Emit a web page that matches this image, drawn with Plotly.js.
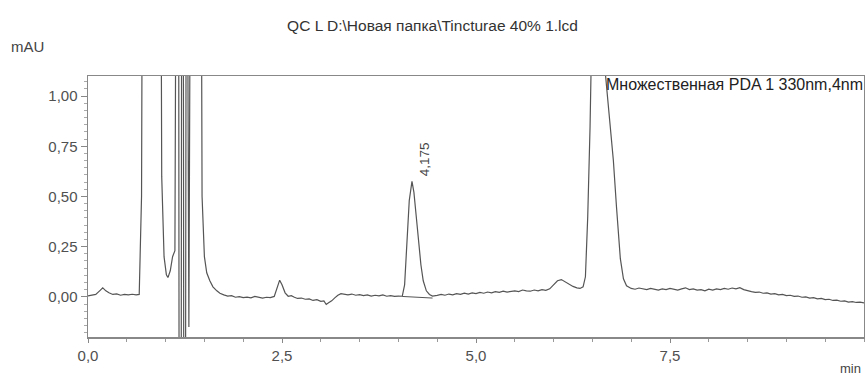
<!DOCTYPE html>
<html>
<head>
<meta charset="utf-8">
<script src="https://cdn.plot.ly/plotly-3.0.1.min.js"></script>
<style>html,body{margin:0;padding:0;background:#fff;}#chart{width:865px;height:376px;}</style>
</head>
<body>
<div id="chart"></div>
<script>
// Retention time (min)
const timeMin = [
  0.00,0.05,0.10,0.15,0.19,0.23,0.27,0.32,0.37,0.42,0.47,0.52,0.57,0.62,0.66,0.69,0.71,
  0.93,0.95,0.98,1.01,1.03,1.06,1.09,1.12,1.145,1.165,1.175,1.20,1.21,1.225,1.235,1.255,1.27,1.30,1.33,
  1.45,1.47,1.50,1.53,1.57,1.61,1.66,1.70,1.75,1.80,1.85,1.90,1.95,2.00,2.05,2.10,2.15,2.20,2.25,2.30,2.35,2.40,
  2.44,2.47,2.50,2.54,2.58,2.62,2.66,2.70,2.75,2.80,2.85,2.90,2.95,3.00,3.04,3.07,3.10,3.14,3.18,3.22,3.26,3.30,
  3.35,3.40,3.45,3.50,3.55,3.60,3.65,3.70,3.75,3.80,3.85,3.90,3.95,4.00,4.05,
  4.08,4.11,4.14,4.175,4.20,4.23,4.26,4.29,4.32,4.36,4.40,4.44,
  4.50,4.55,4.60,4.65,4.70,4.75,4.80,4.85,4.90,4.95,5.00,5.05,5.10,5.15,5.20,5.25,5.30,5.35,5.40,5.45,
  5.50,5.55,5.60,5.65,5.70,5.75,5.80,5.85,5.90,5.95,6.00,6.05,6.10,6.15,6.20,6.25,6.30,6.34,6.38,6.41,
  6.44,6.47,6.50,6.55,6.65,6.67,6.72,6.77,6.81,6.86,6.90,6.94,7.00,
  7.05,7.10,7.15,7.20,7.25,7.30,7.35,7.40,7.45,7.50,7.55,7.60,7.65,7.70,7.75,7.80,7.85,7.90,7.95,
  8.00,8.05,8.10,8.15,8.20,8.25,8.30,8.35,8.40,8.45,8.50,8.55,8.60,8.65,8.70,8.75,8.80,8.85,8.90,8.95,
  9.00,9.05,9.10,9.15,9.20,9.25,9.30,9.35,9.40,9.45,9.50,9.55,9.60,9.65,9.70,9.75,9.80,9.85,9.90,9.95,10.0
];
// Detector signal (mAU)
const signalMAU = [
  0.005,0.010,0.012,0.030,0.045,0.030,0.020,0.012,0.015,0.008,0.012,0.010,0.013,0.010,0.012,0.5,3.0,
  3.0,0.6,0.2,0.11,0.096,0.13,0.20,0.23,3.0,3.0,-1.0,-1.0,3.0,3.0,-1.0,-1.0,3.0,-0.15,3.0,
  3.0,0.5,0.2,0.12,0.08,0.05,0.03,0.018,0.010,0.004,0.006,-0.002,0.001,-0.004,-0.001,-0.005,0.002,-0.003,-0.006,-0.002,-0.004,0.002,
  0.05,0.083,0.06,0.02,0.003,0.006,-0.002,-0.008,-0.006,-0.012,-0.010,-0.018,-0.014,-0.022,-0.020,-0.038,-0.030,-0.020,-0.005,0.008,0.016,0.012,
  0.010,0.014,0.008,0.011,0.006,0.010,0.004,0.008,0.005,0.010,0.003,0.006,0.002,0.004,0.003,
  0.06,0.28,0.48,0.575,0.52,0.40,0.27,0.16,0.08,0.03,0.012,0.004,
  0.007,0.012,0.008,0.014,0.010,0.016,0.012,0.018,0.014,0.020,0.016,0.022,0.018,0.024,0.020,0.026,0.022,0.028,0.024,0.026,
  0.030,0.026,0.034,0.030,0.028,0.034,0.030,0.036,0.032,0.040,0.060,0.080,0.086,0.075,0.062,0.052,0.045,0.042,0.05,0.10,
  0.40,0.85,1.5,3.0,3.0,1.1,0.9,0.68,0.45,0.19,0.09,0.055,0.042,
  0.038,0.044,0.040,0.036,0.042,0.038,0.034,0.040,0.036,0.042,0.038,0.034,0.040,0.045,0.036,0.040,0.034,0.036,0.030,
  0.038,0.034,0.040,0.036,0.042,0.038,0.044,0.040,0.046,0.036,0.030,0.026,0.022,0.024,0.018,0.020,0.014,0.016,0.010,0.012,
  0.006,0.008,0.002,0.004,-0.002,0.000,-0.006,-0.004,-0.010,-0.008,-0.014,-0.012,-0.018,-0.016,-0.022,-0.020,-0.026,-0.024,-0.028,-0.026,-0.030
];
// Integration baseline under the labelled peak
const baseTime = [4.05, 4.44];
const baseSignal = [0.002, -0.006];
// Labels
const peakLabelTime = 4.34;
const peakLabelSignal = 0.684;
const peakLabel = "4,175";
const xTickVals = [0, 2.5, 5, 7.5];
const yTickVals = [0, 0.25, 0.5, 0.75, 1.0];
const titleText = "QC L D:\\Новая папка\\Tincturae 40% 1.lcd";
const channelText = "Множественная PDA 1 330nm,4nm";

const lineColor = "#555";
const traces = [
  {x: timeMin, y: signalMAU, type: "scatter", mode: "lines",
   line: {color: lineColor, width: 1.2}, hoverinfo: "x+y"},
  {x: baseTime, y: baseSignal, type: "scatter", mode: "lines",
   line: {color: lineColor, width: 1}, hoverinfo: "skip"}
];

const layout = {
  width: 865, height: 376,
  margin: {l: 88, r: 1, t: 76, b: 39},
  paper_bgcolor: "#fff", plot_bgcolor: "#fff",
  showlegend: false,
  separators: ", ",
  font: {family: "Liberation Sans, Arial, sans-serif", size: 14, color: "#555"},
  title: {text: titleText, x: 0.5, xanchor: "center", xref: "container",
          y: 1 - 26/376, yref: "container", yanchor: "middle",
          font: {size: 15.5, color: "#333", family: "Liberation Sans, Arial, sans-serif"}},
  xaxis: {range: [0, 10], tickvals: xTickVals, tickformat: ".1f",
          showgrid: false, zeroline: false, showline: true, mirror: true,
          linecolor: "#888", linewidth: 1.5, ticks: "outside", ticklen: 4, tickcolor: "#888",
          minor: {dtick: 0.5, tick0: 0, ticks: "outside", ticklen: 3, tickcolor: "#999"},
          tickfont: {size: 15, color: "#505050"}},
  yaxis: {range: [-0.2, 1.1], tickvals: yTickVals, tickformat: ".2f",
          showgrid: false, zeroline: false, showline: true, mirror: true,
          linecolor: "#888", linewidth: 1.5, ticks: "outside", ticklen: 6, tickcolor: "#888",
          minor: {dtick: 0.25/7, tick0: 0, ticks: "outside", ticklen: 3, tickcolor: "#aaa"},
          tickfont: {size: 15, color: "#505050"}},
  annotations: [
    {text: "mAU", xref: "paper", yref: "paper", x: (9-88)/776, y: (337-47)/261,
     xanchor: "left", yanchor: "middle", showarrow: false, font: {size: 15, color: "#444"}},
    {text: "min", xref: "paper", yref: "paper", x: (850-88)/776, y: (337-368)/261,
     xanchor: "center", yanchor: "middle", showarrow: false, font: {size: 13, color: "#444"}},
    {text: channelText, xref: "paper", yref: "paper", x: (604-88)/776, y: (337-84)/261,
     xanchor: "left", yanchor: "middle", showarrow: false, font: {size: 16, color: "#222"}},
    {text: peakLabel, xref: "x", yref: "y", x: peakLabelTime, y: peakLabelSignal,
     textangle: -90, xanchor: "center", yanchor: "middle", showarrow: false,
     font: {size: 13.5, color: "#444"}}
  ]
};

Plotly.newPlot("chart", traces, layout, {displayModeBar: false, staticPlot: true});
</script>
</body>
</html>
